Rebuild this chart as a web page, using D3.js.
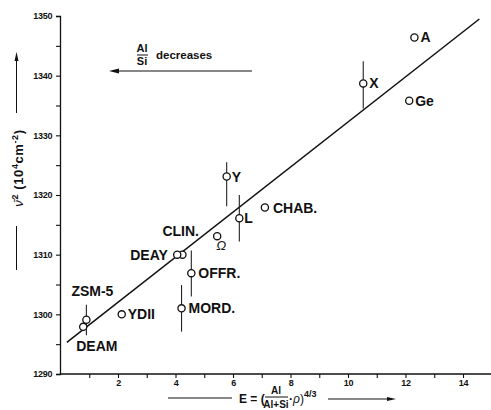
<!DOCTYPE html>
<html><head><meta charset="utf-8">
<script src="https://cdn.jsdelivr.net/npm/d3@7"></script>
<style>body{margin:0;background:#fff}svg{display:block}text{font-family:"Liberation Sans",Arial,sans-serif;fill:#111}</style>
</head><body><svg id="c" width="491" height="410"></svg>
<script>
const names  = ["A","X","Ge","Y","L","CHAB.","Ω","CLIN.","DEAY","OFFR.","MORD.","YDII","ZSM-5","DEAM"];
const eVals  = [12.31,10.53,12.13,5.78,6.22,7.11,5.45,4.24,4.06,4.55,4.21,2.13,0.90,0.79];
const nuVals = [1346.4,1338.7,1335.8,1323.1,1316.1,1317.9,1313.1,1310.0,1310.0,1306.9,1301.0,1300.0,1299.1,1297.9];
const errLo  = [null,1334.5,null,1318.1,1312.2,null,null,null,null,1303.0,1297.1,null,1296.5,null];
const errHi  = [null,1342.4,null,1325.5,1320.0,null,null,null,null,1310.7,1304.9,null,1301.6,null];
// label offsets (dx, dy) in px relative to the point
const labDx  = [6,6,6,5,5,8,-1,-20,-47,7,7,6,-15,-7];
const labDy  = [5,5,5,5,5,5,14,-19,5,5,5,5,-24,24];
const fitE   = [0.22,14.57];
const fitNu  = [1295.3,1349.5];
const xTicks = [1,2,3,4,5,6,7,8,9,10,11,12,13,14,15];
const xLabels= [2,4,6,8,10,12,14];
const yTicks = [1290,1295,1300,1305,1310,1315,1320,1325,1330,1335,1340,1345,1350];
const yLabels= [1290,1300,1310,1320,1330,1340,1350];

const svg = d3.select("#c");
const x = d3.scaleLinear().domain([0,15]).range([60.5,491.75]);
const y = d3.scaleLinear().domain([1290,1350]).range([374,16]);

// axes
const gx = svg.append("g").attr("transform","translate(0,374)");
gx.call(d3.axisBottom(x).tickValues(xTicks).tickSize(4).tickFormat(d=>xLabels.includes(d)?d:""));
const gy = svg.append("g").attr("transform","translate(60,0)");
gy.call(d3.axisLeft(y).tickValues(yTicks).tickSize(4).tickFormat(d=>yLabels.includes(d)?d:""));
[gx,gy].forEach(g=>{
  g.select(".domain").attr("stroke","#111").attr("stroke-width",1.3);
  g.selectAll(".tick line").attr("stroke","#111").attr("stroke-width",1.1);
  g.selectAll(".tick text").attr("font-size",9).attr("font-weight","bold").attr("fill","#111")
   .attr("font-family","'Liberation Sans Narrow','Liberation Sans',Arial,sans-serif").attr("letter-spacing","-0.3");
});
gx.select(".domain").attr("d","M60.5,0H491");
gx.selectAll(".tick text").attr("dy","0.55em");
gy.selectAll(".tick text").attr("dx","-0.1em");

// fit line
svg.append("line")
  .attr("x1",x(fitE[0])).attr("y1",y(fitNu[0]))
  .attr("x2",x(fitE[1])).attr("y2",y(fitNu[1]))
  .attr("stroke","#111").attr("stroke-width",1.5);

const pts = names.map((n,i)=>({n,e:eVals[i],v:nuVals[i],lo:errLo[i],hi:errHi[i],dx:labDx[i],dy:labDy[i]}));

// error bars
svg.selectAll(".err").data(pts.filter(d=>d.lo!==null)).join("line")
  .attr("x1",d=>x(d.e)).attr("x2",d=>x(d.e))
  .attr("y1",d=>y(d.lo)).attr("y2",d=>y(d.hi))
  .attr("stroke","#222").attr("stroke-width",1.1);

// points
svg.selectAll(".pt").data(pts).join("circle")
  .attr("cx",d=>x(d.e)).attr("cy",d=>y(d.v)).attr("r",3.6)
  .attr("fill","#fff").attr("stroke","#111").attr("stroke-width",1.3);

// labels
svg.selectAll(".lab").data(pts).join("text")
  .attr("x",d=>x(d.e)+d.dx).attr("y",d=>y(d.v)+d.dy)
  .attr("font-size",d=>d.n==="Ω"?13:14).attr("font-weight",d=>d.n==="Ω"?"normal":"bold")
  .attr("font-style",d=>d.n==="Ω"?"italic":"normal")
  .text(d=>d.n);

// top annotation: Al/Si decreases with arrow
svg.append("text").attr("x",142).attr("y",52).attr("font-size",11).attr("font-weight","bold").attr("text-anchor","middle").text("Al");
svg.append("line").attr("x1",137).attr("x2",148).attr("y1",55).attr("y2",55).attr("stroke","#111").attr("stroke-width",1);
svg.append("text").attr("x",142).attr("y",65).attr("font-size",11).attr("font-weight","bold").attr("text-anchor","middle").text("Si");
svg.append("text").attr("x",156).attr("y",59).attr("font-size",11.5).attr("font-weight","bold").text("decreases");
svg.append("line").attr("x1",114).attr("x2",252).attr("y1",71).attr("y2",71).attr("stroke","#111").attr("stroke-width",1.2);
svg.append("path").attr("d","M109,71 L119,68.5 L119,73.5 Z").attr("fill","#111");

// y-axis label
svg.append("line").attr("x1",16.5).attr("x2",16.5).attr("y1",58).attr("y2",113).attr("stroke","#111").attr("stroke-width",1);
svg.append("path").attr("d","M16.5,52 L14.5,61 L18.5,61 Z").attr("fill","#111");
const yl = svg.append("text").attr("transform","translate(23,168) rotate(-90)")
  .attr("text-anchor","middle").attr("font-size",13).attr("font-weight","bold").attr("letter-spacing","0.6");
yl.append("tspan").attr("font-style","italic").attr("font-weight","normal").text("ν̄");
yl.append("tspan").attr("font-size",9).attr("dy",-5).text("2");
yl.append("tspan").attr("dy",5).text("  (10");
yl.append("tspan").attr("font-size",9).attr("dy",-5).text("4");
yl.append("tspan").attr("dy",5).text("cm");
yl.append("tspan").attr("font-size",9).attr("dy",-5).text("-2");
yl.append("tspan").attr("dy",5).text(")");
svg.append("line").attr("x1",16.5).attr("x2",16.5).attr("y1",226).attr("y2",270).attr("stroke","#111").attr("stroke-width",1);

// x-axis label
svg.append("line").attr("x1",168).attr("x2",232).attr("y1",398).attr("y2",398).attr("stroke","#111").attr("stroke-width",1);
svg.append("text").attr("x",239).attr("y",403).attr("font-size",12).attr("font-weight","bold").text("E = (");
svg.append("text").attr("x",276).attr("y",394).attr("font-size",10).attr("font-weight","bold").attr("text-anchor","middle").text("Al");
svg.append("line").attr("x1",265).attr("x2",288).attr("y1",397).attr("y2",397).attr("stroke","#111").attr("stroke-width",1);
svg.append("text").attr("x",276).attr("y",408).attr("font-size",10).attr("font-weight","bold").attr("text-anchor","middle").text("Al+Si");
const xl = svg.append("text").attr("x",289).attr("y",403).attr("font-size",12);
xl.append("tspan").attr("font-weight","bold").text("·");
xl.append("tspan").attr("font-style","italic").text("ρ");
xl.append("tspan").text(")");
xl.append("tspan").attr("font-size",9).attr("dy",-6).attr("font-weight","bold").text("4/3");
svg.append("line").attr("x1",328).attr("x2",390).attr("y1",399).attr("y2",399).attr("stroke","#111").attr("stroke-width",1);
svg.append("path").attr("d","M396,399 L387,397 L387,401 Z").attr("fill","#111");
</script></body></html>
